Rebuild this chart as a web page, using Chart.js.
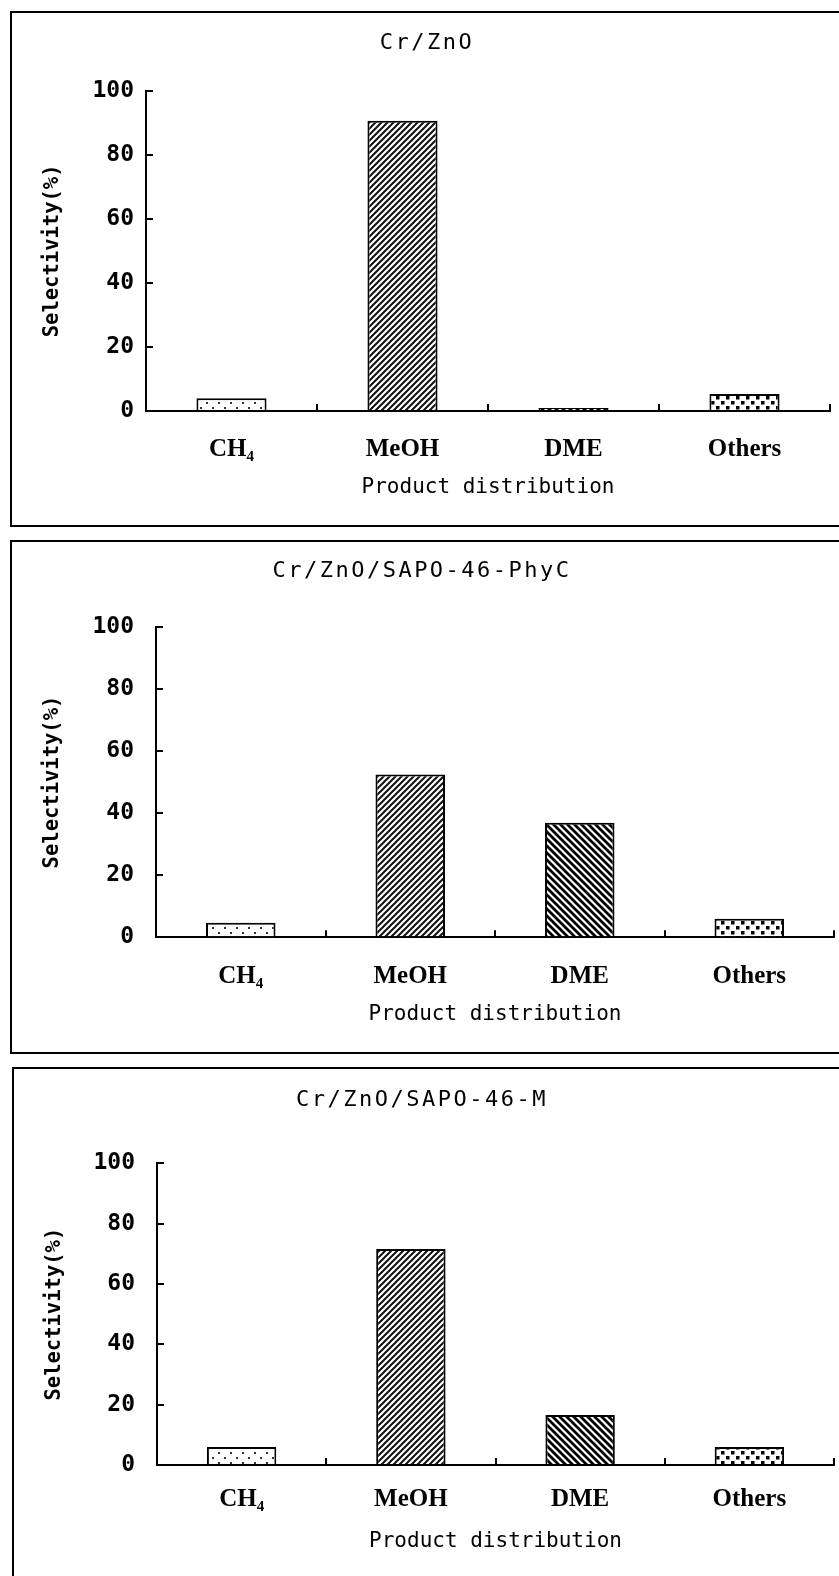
<!DOCTYPE html>
<html>
<head>
<meta charset="utf-8">
<script src="https://cdn.jsdelivr.net/npm/chart.js@4/dist/chart.umd.min.js"></script>
<style>
  html, body { margin: 0; padding: 0; background: #fff; overflow: hidden; }
  body { width: 839px; height: 1576px; position: relative; }
  canvas { position: absolute; left: 0; }
  .frame { position: absolute; border: 2px solid #000; box-sizing: border-box; width: 900px; pointer-events: none; }
</style>
</head>
<body>
<canvas id="c0" width="839" height="530" style="top:0px"></canvas>
<canvas id="c1" width="839" height="530" style="top:530px"></canvas>
<canvas id="c2" width="839" height="516" style="top:1060px"></canvas>
<div class="frame" style="left:10px;top:11px;height:516px"></div>
<div class="frame" style="left:10px;top:540px;height:514px"></div>
<div class="frame" style="left:12px;top:1067px;height:560px"></div>
<script>
  // data
  const categories = ['CH\u2084', 'MeOH', 'DME', 'Others'];
  const panelTitles = ['Cr/ZnO', 'Cr/ZnO/SAPO-46-PhyC', 'Cr/ZnO/SAPO-46-M'];
  const crZnO = [4.0, 90.6, 0.9, 5.3];
  const sapoPhyC = [4.7, 52.4, 36.9, 6.0];
  const sapoM = [6.0, 71.6, 16.6, 6.0];
  const yMin = 0;
  const yMax = 100;
  const yStep = 20;
  const yTitle = 'Selectivity(%)';
  const xTitle = 'Product distribution';

  const series = [crZnO, sapoPhyC, sapoM];

  // page geometry of each panel (canvas top, plot box, text spots)
  const layout = [
    { top: 0, height: 530, left: 146, right: 830, plotTop: 90.7, plotBottom: 411, titleX: 427, titleY: 43, yPad: 19, yTitlePad: 42, xPad: 31 },
    { top: 530, height: 530, left: 156, right: 834, plotTop: 626.7, plotBottom: 937.3, titleX: 422, titleY: 571.5, yPad: 29, yTitlePad: 42.5, xPad: 31 },
    { top: 1060, height: 516, left: 157, right: 834, plotTop: 1163.3, plotBottom: 1465, titleX: 422, titleY: 1100, yPad: 29, yTitlePad: 44, xPad: 27 }
  ];

  const tile = (w, h, draw) => {
    const c = document.createElement('canvas');
    c.width = w; c.height = h;
    const g = c.getContext('2d');
    g.fillStyle = '#fff';
    g.fillRect(0, 0, w, h);
    draw(g, w, h);
    return g.createPattern(c, 'repeat');
  };

  const sparseDots = tile(12, 10, (g) => {
    g.fillStyle = '#333';
    g.fillRect(2, 2, 2, 2);
    g.fillRect(8, 7, 2, 2);
  });
  const fwdHatch = tile(6, 6, (g, w, h) => {
    g.strokeStyle = '#111';
    g.lineWidth = 2;
    g.beginPath();
    g.moveTo(-1, h + 1); g.lineTo(w + 1, -1);
    g.moveTo(-1, 1); g.lineTo(1, -1);
    g.moveTo(w - 1, h + 1); g.lineTo(w + 1, h - 1);
    g.stroke();
  });
  const backHatch = tile(7, 7, (g, w, h) => {
    g.strokeStyle = '#000';
    g.lineWidth = 2.8;
    g.beginPath();
    g.moveTo(-1, -1); g.lineTo(w + 1, h + 1);
    g.moveTo(w - 1, -1); g.lineTo(w + 1, 1);
    g.moveTo(-1, h - 1); g.lineTo(1, h + 1);
    g.stroke();
  });
  const denseDots = tile(10, 10, (g) => {
    g.fillStyle = '#000';
    g.fillRect(1, 1, 3.5, 3.5);
    g.fillRect(6, 6, 3.5, 3.5);
  });
  const fills = [sparseDots, fwdHatch, backHatch, denseDots];

  const panelTitle = {
    id: 'panelTitle',
    afterDraw(chart, args, opts) {
      const ctx = chart.ctx;
      ctx.save();
      ctx.font = '22px "DejaVu Sans Mono"';
      ctx.letterSpacing = '2.5px';
      ctx.fillStyle = '#000';
      ctx.textAlign = 'center';
      ctx.textBaseline = 'middle';
      ctx.fillText(opts.text, opts.x, opts.y);
      ctx.restore();
    }
  };

  const axisH = 100;

  layout.forEach((p, i) => {
    const ctx = document.getElementById('c' + i);
    new Chart(ctx, {
      type: 'bar',
      data: {
        labels: categories,
        datasets: [
          {
            data: series[i],
            backgroundColor: fills,
            borderColor: '#000',
            borderWidth: 2,
            barPercentage: 0.41,
            categoryPercentage: 1
          }
        ]
      },
      options: {
        responsive: false,
        animation: false,
        devicePixelRatio: 1,
        layout: {
          padding: {
            left: 0,
            right: 839 - p.right,
            top: p.plotTop - p.top,
            bottom: p.height - axisH - (p.plotBottom - p.top)
          }
        },
        plugins: {
          legend: { display: false },
          tooltip: { enabled: false },
          title: { display: false },
          panelTitle: { text: panelTitles[i], x: p.titleX, y: p.titleY - p.top }
        },
        scales: {
          x: {
            grid: { drawOnChartArea: false, tickLength: -7, color: '#000', lineWidth: 2 },
            border: { color: '#000', width: 2 },
            ticks: {
              padding: p.xPad,
              color: '#000',
              font: { family: '"Liberation Serif", "Times New Roman", serif', weight: 'bold', size: 25 }
            },
            title: {
              display: true,
              text: xTitle,
              color: '#000',
              padding: { top: 0, bottom: 12.5 },
              font: { family: '"DejaVu Sans Mono", monospace', size: 21, lineHeight: 1 }
            },
            afterFit: (s) => { s.height = axisH; }
          },
          y: {
            min: yMin,
            max: yMax,
            grid: { drawOnChartArea: false, tickLength: -7, color: '#000', lineWidth: 2 },
            border: { color: '#000', width: 2 },
            ticks: {
              stepSize: yStep,
              padding: p.yPad,
              color: '#000',
              font: { family: '"DejaVu Sans Mono", monospace', weight: 'bold', size: 23 }
            },
            title: {
              display: true,
              text: yTitle,
              color: '#000',
              padding: { top: p.yTitlePad, bottom: 0 },
              font: { family: '"DejaVu Sans Mono", monospace', weight: 'bold', size: 20.5, lineHeight: 1 }
            },
            afterFit: (s) => { s.width = p.left; }
          }
        }
      },
      plugins: [panelTitle]
    });
  });
</script>
</body>
</html>
